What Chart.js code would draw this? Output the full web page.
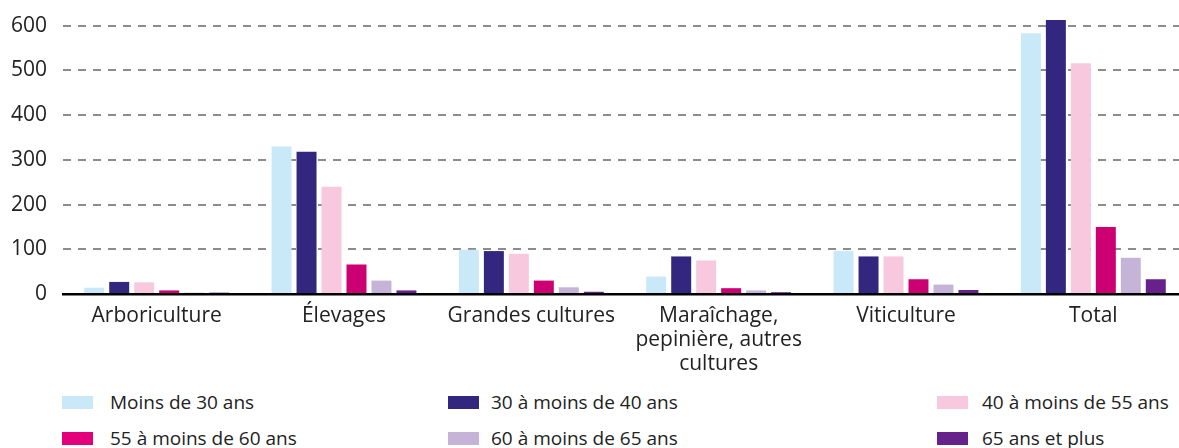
<!DOCTYPE html>
<html><head><meta charset="utf-8">
<script src="https://cdn.jsdelivr.net/npm/chart.js@4/dist/chart.umd.min.js"></script>
<style>
html,body{margin:0;padding:0;background:#fff;overflow:hidden;width:1179px;height:448px;}
#wrap{position:absolute;left:0;top:0;width:1187px;height:380px;}
.lg{position:absolute;font-family:"Open Sans",sans-serif;font-size:19px;color:#222;white-space:nowrap;line-height:20px;}
.bx{position:absolute;width:31px;height:13px;}
</style></head>
<body>
<div id="wrap"><canvas id="c" width="1187" height="380"></canvas></div>
<div id="legend"></div>
<script>
const categories = ["Arboriculture", "Élevages", "Grandes cultures", ["Maraîchage,", "pepinière, autres", "cultures"], "Viticulture", "Total"];
const seriesNames = ["Moins de 30 ans", "30 à moins de 40 ans", "40 à moins de 55 ans", "55 à moins de 60 ans", "60 à moins de 65 ans", "65 ans et plus"];
const seriesColors = ["#c9e8f8", "#32267f", "#f8c8de", "#cc0072", "#c6b3d8", "#66228a"];
const legendColors = ["#c9e8f8", "#32267f", "#f8c8de", "#e4007a", "#c6b3d8", "#66228a"];
const moins30 = [14, 330, 99, 39, 96, 583];
const de30a40 = [27, 318, 96, 84, 84, 613];
const de40a55 = [26, 240, 90, 75, 84, 516];
const de55a60 = [8, 66, 30, 13, 33, 150];
const de60a65 = [3, 30, 15, 8, 21, 81];
const plus65 = [3, 8, 5, 4, 9, 33];
const yTicks = [0, 100, 200, 300, 400, 500, 600];
const allSeries = [moins30, de30a40, de40a55, de55a60, de60a65, plus65];

const FONT = {family: '"Open Sans", sans-serif', size: 21, lineHeight: 1.15};

new Chart(document.getElementById('c'), {
  type: 'bar',
  data: {
    labels: categories,
    datasets: allSeries.map((d, i) => ({
      label: seriesNames[i], data: d, backgroundColor: seriesColors[i],
      borderWidth: 0, categoryPercentage: 0.80, barPercentage: 0.80
    }))
  },
  options: {
    responsive: false, animation: false,
    layout: {padding: {top: 19, left: 0, right: 0, bottom: 0}},
    plugins: {legend: {display: false}, tooltip: {enabled: false}},
    scales: {
      x: {
        grid: {display: false, drawTicks: false},
        border: {display: true, color: '#000', width: 2.5},
        ticks: {color: '#222', font: FONT, padding: 10, maxRotation: 0, autoSkip: false},
        afterFit: s => { s.height = 86; s.paddingLeft = 0; s.paddingRight = 0; }
      },
      y: {
        min: 0, max: 615,
        afterBuildTicks: s => { s.ticks = yTicks.map(v => ({value: v})); },
        grid: {color: '#8c8c8c', lineWidth: 2, drawTicks: false},
        border: {display: false, dash: [8, 7]},
        ticks: {color: '#222', font: FONT, padding: 16},
        afterFit: s => { s.width = 63; s.paddingTop = 0; s.paddingBottom = 0; }
      }
    }
  }
});

// legend
const lgPos = [
  {bx: 62, tx: 110, y: 396}, {bx: 448, tx: 491, y: 396}, {bx: 937, tx: 982, y: 396},
  {bx: 62, tx: 110, y: 432}, {bx: 448, tx: 491, y: 432}, {bx: 937, tx: 982, y: 432}
];
const lg = document.getElementById('legend');
seriesNames.forEach((n, i) => {
  const p = lgPos[i];
  const b = document.createElement('div');
  b.className = 'bx'; b.style.left = p.bx + 'px'; b.style.top = p.y + 'px'; b.style.background = legendColors[i];
  lg.appendChild(b);
  const t = document.createElement('div');
  t.className = 'lg'; t.style.left = p.tx + 'px'; t.style.top = (p.y - 4) + 'px'; t.textContent = n;
  lg.appendChild(t);
});
</script>
</body></html>
